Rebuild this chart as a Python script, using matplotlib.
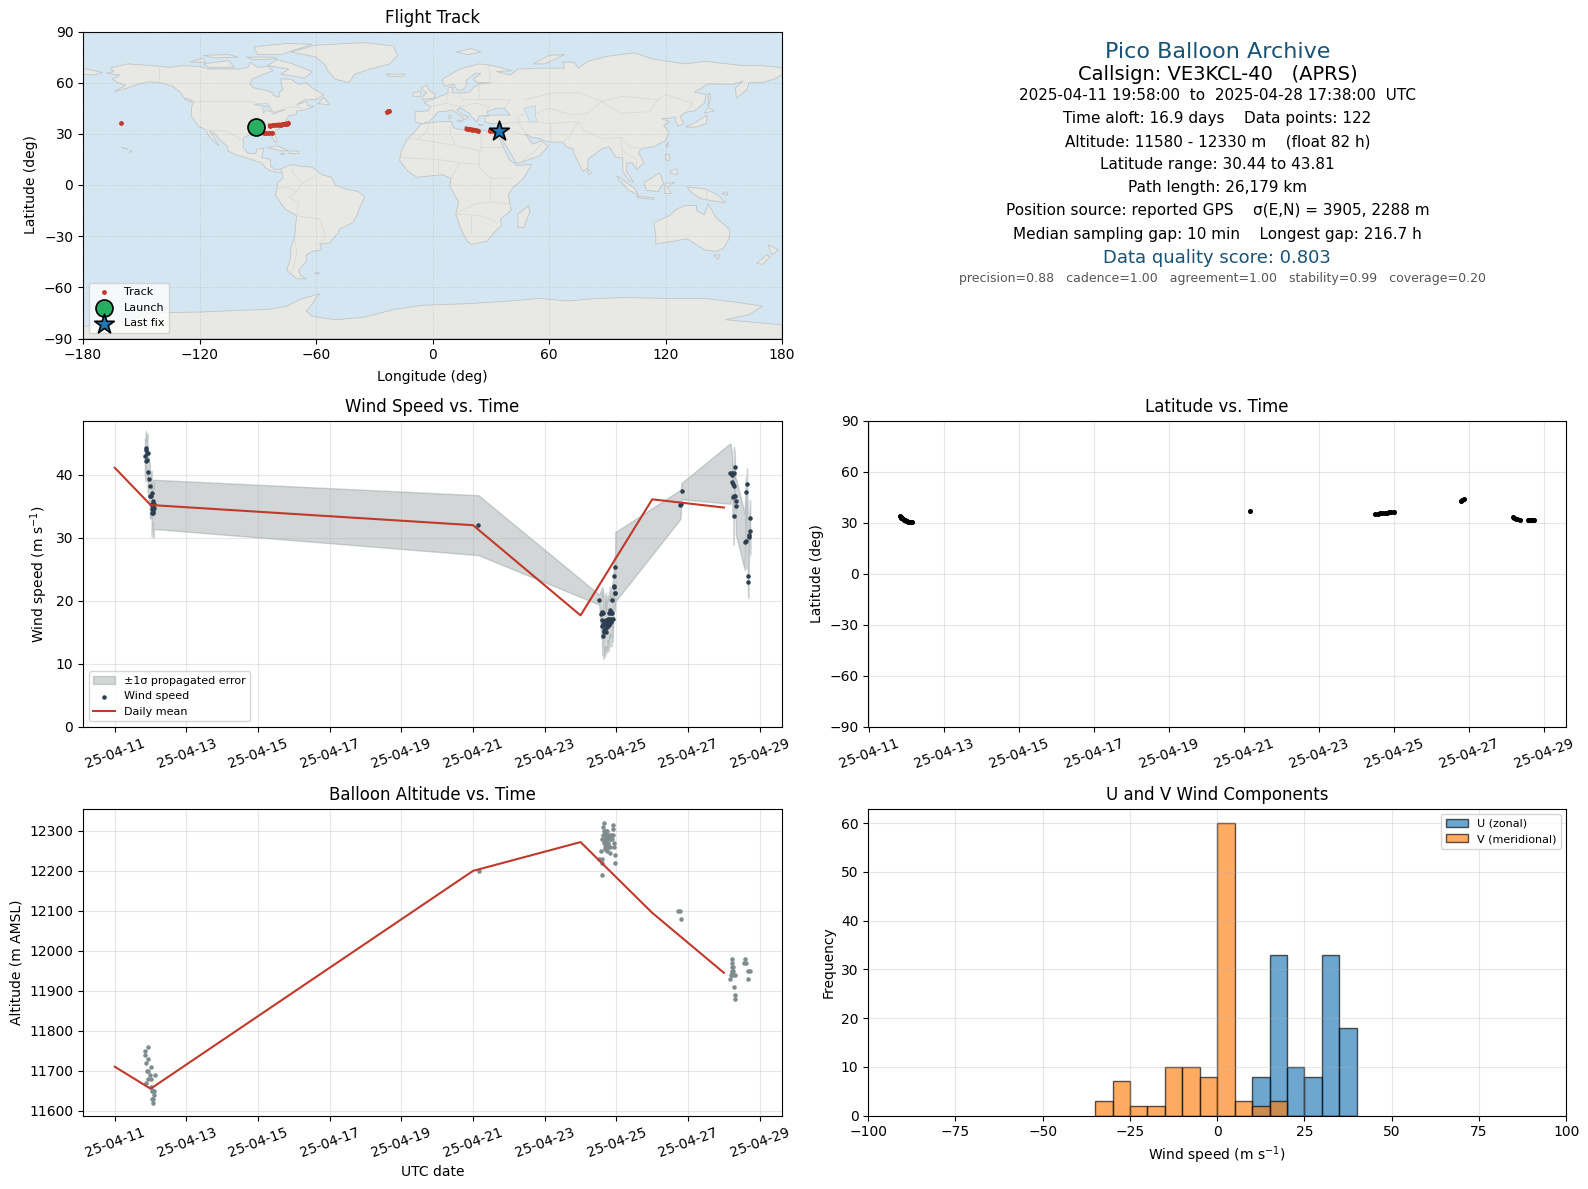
import matplotlib
matplotlib.use("Agg")
import matplotlib.pyplot as plt
import matplotlib.dates as mdates
import numpy as np

# values are days after 2025-04-11 00:00 UTC
T0 = mdates.datestr2num("2025-04-11")
TICK_DAYS = [0, 2, 4, 6, 8, 10, 12, 14, 16, 18]

# ---- wind speed
wind_t = [0.839, 0.858, 0.867, 0.867, 0.886, 0.886, 0.914, 0.914, 0.951, 0.979, 0.979, 1.007, 1.026,
          1.035, 1.040, 1.045, 1.050, 1.063, 1.063, 1.072, 1.080, 1.091, 1.100,
          10.15,
          13.52, 13.58, 13.60, 13.60, 13.61, 13.62, 13.64, 13.64, 13.655, 13.664, 13.68, 13.68, 13.71,
          13.71, 13.71, 13.73, 13.73, 13.76, 13.76, 13.78, 13.78, 13.785, 13.795, 13.80, 13.80, 13.82,
          13.82, 13.84, 13.84, 13.86, 13.86, 13.88, 13.89, 13.90, 13.925, 13.925, 13.935, 13.95, 13.96, 13.97,
          15.77, 15.79, 15.82,
          17.18, 17.217, 17.226, 17.235, 17.245, 17.254, 17.272, 17.275, 17.282, 17.29, 17.30, 17.32, 17.33, 17.335,
          17.58, 17.61, 17.63, 17.645, 17.673, 17.68, 17.70, 17.705, 17.73, 17.735]
wind = [43.0, 42.2, 44.2, 44.0, 43.5, 42.3, 43.4, 40.5, 39.3, 38.2, 36.7, 36.6, 37.1,
        33.9, 35.2, 34.6, 35.3, 35.8, 34.2, 34.8, 33.9, 34.8, 35.3,
        32.0,
        20.2, 17.9, 18.2, 16.0, 17.0, 18.1, 16.4, 14.4, 15.0, 15.4, 16.8, 15.6, 17.0,
        15.1, 16.1, 16.3, 15.8, 16.7, 17.1, 16.4, 16.9, 16.1, 17.2, 18.0, 16.8, 18.6,
        17.0, 18.3, 17.2, 18.0, 16.6, 18.1, 20.1, 17.1, 22.2, 22.4, 24.0, 21.2, 21.2, 25.4,
        35.2, 35.3, 37.4,
        40.2, 40.2, 40.0, 38.9, 36.4, 38.5, 38.2, 33.4, 40.2, 36.6, 41.3, 36.7, 35.8, 35.0,
        29.4, 37.2, 29.5, 38.5, 24.0, 23.0, 30.5, 30.1, 33.2, 31.0]
wind_sig = [2.8, 3.2, 2.7, 2.9, 3.0, 3.0, 3.1, 3.2, 3.2, 3.4, 3.5, 3.6, 3.5,
            3.7, 3.4, 3.8, 3.6, 3.4, 3.8, 3.6, 3.9, 3.7, 3.9,
            4.75,
            0.8, 3.9, 4.0, 4.6, 4.3, 3.8, 4.5, 3.6, 3.7, 4.2, 4.0, 4.4, 4.3,
            3.2, 4.3, 3.5, 4.0, 4.2, 3.3, 4.4, 3.6, 3.9, 3.4, 3.4, 4.2, 3.7,
            3.2, 3.8, 3.3, 3.5, 3.8, 3.4, 3.0, 3.6, 3.0, 3.2, 3.0, 2.6, 2.8, 5.5,
            2.35, 2.2, 1.3,
            4.8, 3.6, 3.0, 2.8, 3.0, 3.2, 3.0, 4.5, 4.2, 3.0, 2.6, 3.0, 3.4, 4.5,
            4.5, 2.5, 4.4, 2.5, 2.6, 2.6, 3.2, 3.0, 2.8, 3.6]

daily_days = [0, 1, 10, 13, 15, 17]
wind_daily = [41.1, 35.2, 32.0, 17.7, 36.1, 34.8]
alt_daily = [11710, 11655, 12200, 12272, 12095, 11945]

# ---- altitude
alt_t = [0.918, 0.834, 0.834, 0.918, 0.862, 1.002, 0.918, 0.890, 0.974, 1.114, 0.918, 1.002, 0.862, 1.002,
         1.030, 1.058, 1.086, 1.058, 1.030, 1.058, 1.090,
         10.17,
         13.655, 13.627, 13.907, 13.907, 13.655, 13.739, 13.627, 13.72, 13.608, 13.70, 13.86, 13.907, 13.87,
         13.655, 13.72, 13.776, 13.935, 13.683, 13.776, 13.813, 13.935, 13.571, 13.739, 13.813, 13.963,
         13.515, 13.59, 13.60, 13.963, 13.60, 13.767, 13.674, 13.70, 13.69, 13.74, 13.75, 13.66, 13.79,
         13.80, 13.83, 13.68, 13.71,
         15.73, 15.77, 15.81,
         17.235, 17.60, 17.235, 17.57, 17.63, 17.25, 17.22, 17.26, 17.66, 17.72, 17.23, 17.30, 17.20, 17.18,
         17.68, 17.29, 17.32, 17.32, 17.24, 17.25]
alt = [11760, 11750, 11740, 11730, 11720, 11710, 11700, 11700, 11690, 11690, 11680, 11680, 11670, 11660,
       11650, 11650, 11640, 11630, 11630, 11620, 11650,
       12200,
       12320, 12310, 12315, 12305, 12300, 12300, 12290, 12290, 12280, 12280, 12290, 12290, 12280,
       12270, 12270, 12270, 12270, 12260, 12260, 12260, 12260, 12250, 12250, 12245, 12240,
       12230, 12230, 12220, 12220, 12190, 12265, 12290, 12300, 12280, 12280, 12260, 12275, 12285,
       12290, 12280, 12255, 12265,
       12100, 12100, 12080,
       11980, 11980, 11970, 11970, 11970, 11960, 11950, 11950, 11950, 11950, 11945, 11940, 11940, 11930,
       11930, 11910, 11890, 11880, 11960, 11940]

# ---- latitude
lat_t = [0.83, 0.85, 0.87, 0.89, 0.91, 0.94, 0.97, 1.00, 1.03, 1.06, 1.09, 1.12, 1.15,
         10.15,
         13.50, 13.56, 13.62, 13.68, 13.74, 13.80, 13.86, 13.92, 13.98,
         15.77, 15.81, 15.85,
         17.16, 17.20, 17.24, 17.28, 17.34, 17.56, 17.60, 17.64, 17.68, 17.73]
lat = [33.8, 33.4, 33.0, 32.6, 32.2, 31.8, 31.4, 31.0, 30.7, 30.6, 30.5, 30.5, 30.44,
       36.6,
       35.3, 35.3, 35.4, 35.5, 35.7, 35.9, 36.0, 36.1, 36.1,
       42.8, 43.3, 43.8,
       33.2, 32.8, 32.4, 32.0, 31.5, 31.8, 31.8, 31.7, 31.7, 31.6]

# ---- wind histogram
bin_left = [-35, -30, -25, -20, -15, -10, -5, 0, 5, 10, 15, 20, 25, 30, 35]
u_counts = [0, 0, 0, 0, 0, 0, 0, 0, 0, 8, 33, 10, 8, 33, 18]
v_counts = [3, 7, 2, 2, 10, 10, 8, 60, 3, 2, 3, 0, 0, 0, 0]

# ---- flight track
track_lon = [-160.3, -87.0, -85.5, -84.0, -82.5, -83.7, -82.0, -80.5, -79.0, -78.0, -77.0, -76.0, -75.0, -74.5,
             -23.4, -22.8, -22.2, 17.6, 19.0, 20.5, 22.0, 23.4, 29.5, 31.0, 32.5, 34.2]
track_lat = [36.4, 30.6, 30.3, 30.2, 30.5, 34.8, 35.0, 35.2, 35.4, 35.4, 35.6, 35.8, 36.0, 36.2,
             42.7, 43.2, 43.4, 33.0, 32.8, 32.5, 32.2, 31.8, 31.8, 31.5, 31.4, 31.4]
launch_lon, launch_lat = -90.7, 33.9
last_lon, last_lat = 34.3, 31.4

# ---- world outline (lon, lat)
land = [
    [(-168, 65.5), (-164, 66.5), (-166, 68.5), (-157, 71), (-148, 70.3), (-141, 69.6), (-135, 69), (-128, 70), (-120, 69.5),
     (-115, 68), (-108, 68), (-100, 68), (-95, 69), (-94, 72), (-90, 69), (-85, 69.5), (-82, 67), (-87, 65), (-93, 62),
     (-94, 59), (-92, 57), (-85, 55.3), (-82, 54), (-82, 52.5), (-79, 51.5), (-79, 54.5), (-77, 56), (-78, 59), (-78, 62.3),
     (-73, 62), (-69, 59), (-65, 60), (-62, 57), (-56, 53), (-60, 50), (-66, 50), (-70, 47), (-65, 49), (-64, 46.5), (-61, 46),
     (-66, 44), (-70, 43.5), (-70, 41.5), (-74, 40.5), (-76, 37), (-75.5, 35.5), (-78, 34), (-81, 31.5), (-81, 29), (-80, 26),
     (-81, 25), (-82.5, 28), (-84, 30), (-89, 30), (-90, 29), (-94, 29.5), (-97.5, 27.5), (-97.5, 22), (-95, 18.5), (-91, 18.5),
     (-90.5, 21), (-87, 21.5), (-88, 16), (-83.5, 15), (-83.5, 11), (-81, 9), (-78, 9.3), (-77.5, 7.5), (-80, 7.5), (-83, 8.2),
     (-86, 10), (-88, 13), (-92, 14.5), (-96, 16), (-102, 18), (-105.5, 20), (-105.5, 22.5), (-109, 26), (-113, 31), (-114.7, 31.5),
     (-112, 27), (-110, 23), (-112, 25), (-115, 28.5), (-117, 32.5), (-120.5, 34.5), (-122.5, 37.5), (-124.3, 40.5), (-124, 46),
     (-123, 49), (-128, 51), (-130, 54.5), (-134, 58), (-140, 60), (-146, 60.5), (-152, 59), (-158, 56.5), (-164, 54.7),
     (-158, 58.5), (-162, 60), (-165, 62), (-161, 64.5)],
    [(-73, 78), (-60, 82), (-35, 83.5), (-20, 81.5), (-18, 76), (-22, 71), (-32, 68), (-40, 65), (-43, 60), (-50, 62), (-54, 67), (-55, 70), (-60, 75)],
    [(-80, 73.5), (-72, 71), (-62, 66.5), (-66, 62.5), (-72, 64), (-78, 65), (-74, 68), (-85, 70)],
    [(-118, 71), (-105, 73), (-102, 69), (-115, 69)],
    [(-90, 76.5), (-78, 76.5), (-62, 82.5), (-75, 83), (-92, 81)],
    [(-125, 72), (-118, 74.5), (-117, 72)],
    [(-118, 76), (-105, 76.5), (-100, 75), (-112, 74.5)],
    [(-96, 75), (-82, 75), (-80, 74), (-92, 73.5)],
    [(-59, 47.7), (-53, 47), (-56, 51.5)],
    [(-85, 22), (-80, 23), (-74, 20), (-78, 20)],
    [(-74, 18.5), (-69, 18.5), (-69, 19.8), (-73, 20)],
    [(-78.3, 18.2), (-76.3, 18), (-76.8, 18.5)],
    [(-128, 50.5), (-124, 48.5), (-125, 50.5)],
    [(-156, 19), (-155, 19.5), (-155.7, 20.2)],
    [(-160, 22), (-158, 21.4), (-157, 21)],
    [(-78, 9.3), (-75, 11), (-72, 12), (-68, 11), (-62, 10.5), (-57, 6), (-52, 4.5), (-50, 0), (-44, -2.5), (-38, -4), (-35, -7),
     (-37, -12), (-39, -18), (-41, -22), (-48, -26), (-48.5, -28), (-53, -34), (-58, -34.5), (-57, -38), (-62, -39), (-65, -41),
     (-65, -45), (-69, -50), (-68, -53), (-65, -55), (-70, -55), (-75, -50), (-73, -42), (-73, -37), (-71, -30), (-70, -18),
     (-76, -14), (-81, -6), (-80, -2), (-80, 1), (-77, 4), (-77.5, 7.5)],
    [(-61, -51.5), (-58, -51.5), (-59, -52.3)],
    [(-6, 35.8), (3, 37), (10, 37.3), (11, 33.5), (15, 32.3), (20, 32.5), (25, 32), (32, 31.2), (34, 28), (37, 21), (39.5, 15),
     (43.5, 11.5), (51, 12), (47, 4), (41, -2), (39, -6), (40.5, -15), (35, -20), (35.5, -24), (32.5, -27), (28, -33), (20, -34.8),
     (18, -33), (15, -27), (12, -17), (13.5, -10), (9, -1), (9.5, 4), (5, 6), (-4, 5), (-8, 4.5), (-13, 8.5), (-17, 14.5),
     (-16, 20), (-13, 27), (-10, 30)],
    [(49.5, -12), (50, -16), (47, -25), (44, -25), (44, -17)],
    [(-9, 37), (-9, 43), (-2, 43.5), (-1, 46), (-4.5, 48.3), (2, 51), (8, 54), (8, 57), (10.5, 57.5), (10, 54), (14, 54), (19, 54.5),
     (21, 57), (24, 59.3), (30, 60), (23, 60), (21, 62), (25, 65.5), (22, 65.5), (17, 61), (18, 59), (16, 56), (13, 55.5), (11, 59),
     (6, 58), (5, 62), (14, 68), (24, 71), (31, 70), (41, 67), (33, 66.5), (40, 64.5), (44, 68), (55, 68.5), (68, 68.5), (67, 72),
     (73, 72), (75, 68.5), (80, 72.5), (90, 75.5), (104, 77.5), (113, 74), (130, 71), (140, 72.5), (160, 70), (170, 70), (180, 68.8),
     (180, 65), (177, 62.5), (170, 60), (163, 60), (162, 56), (156.5, 51), (156, 57), (160, 61), (155, 59), (142, 59.3), (135, 54.5),
     (141, 53), (140, 48), (135, 43.5), (130, 42.5), (127.5, 40), (129.5, 36), (126.5, 34.5), (125, 38), (125, 40), (121, 39), (118, 39),
     (122, 37), (119, 35), (122, 31), (120, 26), (114, 22.5), (108, 21.5), (106, 19), (109, 13), (105, 9), (103, 13), (100, 13), (100, 8),
     (103.5, 1.5), (101, 3), (98, 8), (98, 16), (94.5, 16), (91, 22.5), (87, 21), (80, 15), (80, 10), (77.5, 8), (73, 18), (72.5, 21),
     (69, 22.5), (67, 25), (61, 25.2), (57, 26), (56, 27), (51, 28), (48, 30), (50, 26), (52, 24), (56, 26), (59.5, 22.5), (55, 17),
     (45, 13), (43, 13), (39, 21), (35, 28), (34.5, 31), (36, 36), (30, 36), (27, 37), (27, 40), (31, 41), (40, 41), (37, 45), (33, 45),
     (28, 43), (29, 41), (24, 40.5), (23, 37), (20, 40), (19, 42), (14, 45.5), (12.5, 44), (16, 41), (18.5, 40), (16, 38), (15.5, 40),
     (10, 44), (6, 43), (3, 43), (0, 39), (-2, 37), (-5.5, 36)],
    [(-180, 68.5), (-172, 66.5), (-170, 66), (-175, 64.5), (-180, 65)],
    [(-5.5, 50), (1, 51), (1.5, 53), (-2, 56), (-3, 58.5), (-6, 57), (-3, 54), (-5, 52)],
    [(-10, 52), (-6, 52), (-6, 55), (-10, 54)],
    [(-24, 65), (-14, 65), (-16, 63.5), (-22, 63.7)],
    [(12, 78), (20, 80), (25, 78), (18, 76.5)],
    [(52, 71), (58, 71), (68, 76.5), (60, 76)],
    [(12.5, 38), (15.5, 38), (15, 36.7)],
    [(8.5, 41), (9.6, 41), (9.4, 39), (8.5, 39)],
    [(23.5, 35.5), (26, 35.2), (24, 35)],
    [(80, 9.5), (82, 7), (80.5, 6), (79.8, 8)],
    [(130.5, 34), (136, 34), (141, 36), (141.5, 41), (140, 40), (136, 37), (131, 34.5)],
    [(140, 42), (145, 43.5), (142, 45.5)],
    [(142, 46), (143, 50), (143, 54), (142, 53)],
    [(120, 23), (121.5, 25), (121, 22)],
    [(120, 18), (122, 18), (122, 14), (120, 15)],
    [(122, 7), (126, 6), (126, 9.5), (123, 8.5)],
    [(109, 1.5), (117, 7), (119, 1), (116, -4), (110, -3)],
    [(95, 5.5), (104, -2), (106, -6), (101, -3), (96, 3)],
    [(105, -6.5), (114, -7.5), (114, -8.5), (106, -7.5)],
    [(119.5, -5), (120, 1), (125, 1.5), (121, -1), (123, -5)],
    [(131, -1), (141, -2.5), (147, -6), (151, -10.5), (143, -9), (138, -8), (133, -4)],
    [(149, -5), (152, -4), (152, -6)],
    [(114, -22), (122, -18), (126, -14), (130, -12), (136, -12), (136, -15), (140, -17.5), (142, -11), (146, -19), (153, -26),
     (153, -31), (150, -37), (146, -39), (140, -38), (136, -35), (131, -31.5), (124, -33), (115, -34.5), (115, -30)],
    [(145, -41), (148, -41), (147, -43.5)],
    [(173, -35), (178, -38), (175, -41), (174, -39)],
    [(172, -41), (174, -42), (170, -46.5), (167, -46)],
    [(-180, -83), (-160, -80), (-145, -75), (-120, -74.5), (-100, -73.5), (-85, -73), (-75, -71), (-68, -67), (-58, -63.7), (-60, -66),
     (-62, -70), (-65, -74), (-62, -77), (-50, -79), (-35, -77.5), (-20, -73), (-5, -70.5), (20, -69.5), (40, -68), (55, -66.5), (70, -68),
     (85, -66.5), (100, -66), (120, -66.5), (140, -66.5), (155, -68.5), (170, -71), (163, -76), (151, -79), (180, -82), (180, -90), (-180, -90)],
]
water = [
    [(47, 45), (53, 46.5), (53, 40), (54, 37), (50, 37), (49, 40)],
    [(-92, 47), (-85, 48), (-84, 46), (-88, 46.5)],
    [(-87.5, 46), (-84, 46), (-82, 43), (-84, 43), (-86, 44), (-87, 42)],
    [(-83, 42), (-76, 44), (-79, 43), (-82, 41.5)],
]
borders = [
    [(-141, 69.6), (-141, 60)], [(-123, 49), (-95, 49), (-88, 47.5), (-82, 43), (-75, 45), (-70, 46), (-67, 45)],
    [(-117, 32.5), (-106, 31.5), (-97.5, 26)],
    [(-70, -18), (-58, -20), (-55, -30), (-58, -34.5)], [(-70, -18), (-69, -11), (-74, -7), (-70, -4), (-67, 1), (-60, 5)],
    [(-71, -30), (-70, -40), (-72, -50)], [(-80, -2), (-75, -1), (-70, -4)], [(-72, 12), (-72, 7), (-67, 1)],
    [(-13, 27), (-8, 27), (12, 23), (25, 20), (25, 32)], [(-8, 27), (-3, 31), (-2, 35)], [(10, 37), (9, 30), (12, 23)],
    [(25, 22), (36, 22)], [(24, 20), (24, 10), (30, 4), (41, 4)], [(-16, 16), (3, 15), (14, 13), (24, 12)], [(3, 15), (3, 6)],
    [(14, 13), (9.5, 4)], [(30, 4), (30, -10), (22, -11), (12, -17)], [(30, -10), (40, -11)], [(20, -18), (20, -28)], [(12, -17), (25, -18), (33, -22)],
    [(-1, 46), (7, 48), (8, 54)], [(7, 48), (14, 46), (22, 48), (29, 46), (28, 43)], [(14, 54), (15, 50), (24, 50), (24, 59)], [(24, 50), (40, 50), (37, 45)],
    [(30, 60), (29, 70)], [(36, 36), (44, 37), (48, 30)], [(44, 37), (44, 40), (47, 42)], [(36, 32), (39, 32), (48, 29)], [(45, 13), (52, 19), (56, 24)],
    [(44, 37), (53, 37), (61, 36), (61, 25)], [(61, 36), (71, 37), (75, 37), (70, 28), (67, 25)], [(75, 37), (78, 32), (88, 27), (97, 28), (98, 16)],
    [(53, 42), (60, 45), (72, 41), (80, 42)], [(47, 50), (62, 54), (76, 54), (87, 49)], [(87, 49), (98, 52), (116, 50), (120, 53), (134, 48), (131, 43)],
    [(87, 49), (97, 42), (112, 43), (116, 50)], [(80, 42), (87, 49)], [(97, 28), (102, 22), (108, 21.5)], [(98, 20), (105, 15), (105, 9)], [(141, -2.5), (141, -9)],
]


def add_axes(fig, left, top, right, bottom):
    # positions read in pixels from the reference
    W, H = 1588.0, 1189.0
    return fig.add_axes([left / W, 1 - bottom / H, (right - left) / W, (bottom - top) / H])


def date_axis(ax, xmin, xmax):
    ax.set_xlim(T0 + xmin, T0 + xmax)
    ax.set_xticks([T0 + d for d in TICK_DAYS])
    ax.xaxis.set_major_formatter(mdates.DateFormatter("%y-%m-%d"))
    ax.tick_params(axis="x", labelrotation=20)
    ax.grid(True, alpha=0.3)


fig = plt.figure(figsize=(15.88, 11.89), dpi=100)

ax_map = add_axes(fig, 83, 31.5, 782, 338.5)
ax_wind = add_axes(fig, 83, 420.5, 782, 727)
ax_lat = add_axes(fig, 868.2, 420.5, 1566.2, 727)
ax_alt = add_axes(fig, 83, 808.5, 782, 1115.5)
ax_hist = add_axes(fig, 868.2, 808.5, 1566.2, 1115.5)

# FLIGHT TRACK
ax_map.set_facecolor("#d4e6f1")
for poly in land:
    xs, ys = zip(*poly)
    ax_map.fill(xs, ys, facecolor="#e8e8e4", edgecolor="#c2c5c6", lw=0.6, zorder=1)
for poly in water:
    xs, ys = zip(*poly)
    ax_map.fill(xs, ys, facecolor="#d4e6f1", edgecolor="#c2c5c6", lw=0.4, zorder=1.1)
for line in borders:
    xs, ys = zip(*line)
    ax_map.plot(xs, ys, color="#d6d8d6", lw=0.5, zorder=1.2)
ax_map.scatter(track_lon, track_lat, s=6, color="#c0392b", label="Track", zorder=3)
ax_map.plot(track_lon[1:5], track_lat[1:5], color="#c0392b", lw=2.6, zorder=3)
ax_map.plot(track_lon[5:14], track_lat[5:14], color="#c0392b", lw=3, zorder=3)
ax_map.plot(track_lon[17:22], track_lat[17:22], color="#c0392b", lw=3, zorder=3)
ax_map.plot(track_lon[14:17], track_lat[14:17], color="#c0392b", lw=2.5, zorder=3)
ax_map.plot(track_lon[22:], track_lat[22:], color="#c0392b", lw=2.5, zorder=3)
ax_map.scatter(launch_lon, launch_lat, s=150, color="#27ae60", edgecolor="black", lw=1.2, label="Launch", zorder=5)
ax_map.scatter(last_lon, last_lat, s=220, marker="*", color="#1f77b4", edgecolor="black", lw=1.2, label="Last fix", zorder=5)
ax_map.set_xlim(-180, 180)
ax_map.set_ylim(-90, 90)
ax_map.set_xticks(np.arange(-180, 181, 60))
ax_map.set_yticks(np.arange(-90, 91, 30))
ax_map.grid(True, linestyle=":", color="gray", alpha=0.3, lw=0.6, zorder=2)
ax_map.set_axisbelow(False)
ax_map.set_xlabel("Longitude (deg)", labelpad=5.5)
ax_map.set_ylabel("Latitude (deg)")
ax_map.set_title("Flight Track")
ax_map.legend(loc="lower left", fontsize=8)

# SUMMARY TEXT
summary = [
    ("Pico Balloon Archive", 51.6, 16, "#1a5276", 1217.4),
    ("Callsign: VE3KCL-40   (APRS)", 74, 14, "black", 1217.4),
    ("2025-04-11 19:58:00  to  2025-04-28 17:38:00  UTC", 95.2, 11, "black", 1217.4),
    ("Time aloft: 16.9 days    Data points: 122", 118.5, 11, "black", 1217.4),
    ("Altitude: 11580 - 12330 m    (float 82 h)", 141.6, 11, "black", 1217.4),
    ("Latitude range: 30.44 to 43.81", 164.8, 11, "black", 1217.4),
    ("Path length: 26,179 km", 187.4, 11, "black", 1217.4),
    ("Position source: reported GPS    σ(E,N) = 3905, 2288 m", 210.6, 11, "black", 1217.4),
    ("Median sampling gap: 10 min    Longest gap: 216.7 h", 234, 11, "black", 1217.4),
    ("Data quality score: 0.803", 258, 13, "#1a5276", 1217.4),
    ("precision=0.88   cadence=1.00   agreement=1.00   stability=0.99   coverage=0.20", 278.5, 9, "#555555", 1222.4),
]
for s, ypx, size, col, xpx in summary:
    fig.text(xpx / 1588, 1 - ypx / 1189, s, ha="center", va="center", fontsize=size, color=col)

# WIND SPEED
wind_x = T0 + np.array(wind_t)
wind_v = np.array(wind)
wind_s = np.array(wind_sig)
ax_wind.fill_between(wind_x, wind_v - wind_s, wind_v + wind_s, color="#7f8c8d", alpha=0.35, label="±1σ propagated error")
ax_wind.scatter(wind_x, wind_v, s=5, color="#2c3e50", label="Wind speed", zorder=3)
ax_wind.plot(T0 + np.array(daily_days), wind_daily, color="#c0392b", lw=1.5, label="Daily mean", zorder=4)
date_axis(ax_wind, -0.887, 18.622)
ax_wind.set_ylim(0, 48.6)
ax_wind.set_yticks([0, 10, 20, 30, 40])
ax_wind.set_ylabel("Wind speed (m s$^{-1}$)")
ax_wind.set_title("Wind Speed vs. Time")
ax_wind.legend(loc="lower left", fontsize=8)

# LATITUDE
ax_lat.scatter(T0 + np.array(lat_t), lat, s=7, color="black", zorder=3)
date_axis(ax_lat, -0.013, 18.58)
ax_lat.set_ylim(-90, 90)
ax_lat.set_yticks(np.arange(-90, 91, 30))
ax_lat.set_ylabel("Latitude (deg)")
ax_lat.set_title("Latitude vs. Time")

# ALTITUDE
ax_alt.scatter(T0 + np.array(alt_t), alt, s=5, color="#7f8c8d", zorder=3)
ax_alt.plot(T0 + np.array(daily_days), alt_daily, color="#c0392b", lw=1.5, zorder=4)
date_axis(ax_alt, -0.887, 18.622)
ax_alt.set_ylim(11588, 12356)
ax_alt.set_yticks(np.arange(11600, 12301, 100))
ax_alt.set_xlabel("UTC date")
ax_alt.set_ylabel("Altitude (m AMSL)")
ax_alt.set_title("Balloon Altitude vs. Time")

# HISTOGRAM
ax_hist.bar(bin_left, u_counts, width=5, align="edge", color="#1f77b4", alpha=0.65, edgecolor="black", label="U (zonal)")
ax_hist.bar(bin_left, v_counts, width=5, align="edge", color="#ff7f0e", alpha=0.65, edgecolor="black", label="V (meridional)")
ax_hist.set_xlim(-100, 100)
ax_hist.set_ylim(0, 63)
ax_hist.set_yticks(np.arange(0, 61, 10))
ax_hist.grid(True, alpha=0.3)
ax_hist.set_xlabel("Wind speed (m s$^{-1}$)")
ax_hist.set_ylabel("Frequency")
ax_hist.set_title("U and V Wind Components")
ax_hist.legend(loc="upper right", fontsize=8)

fig.savefig("out.png", dpi=100)
